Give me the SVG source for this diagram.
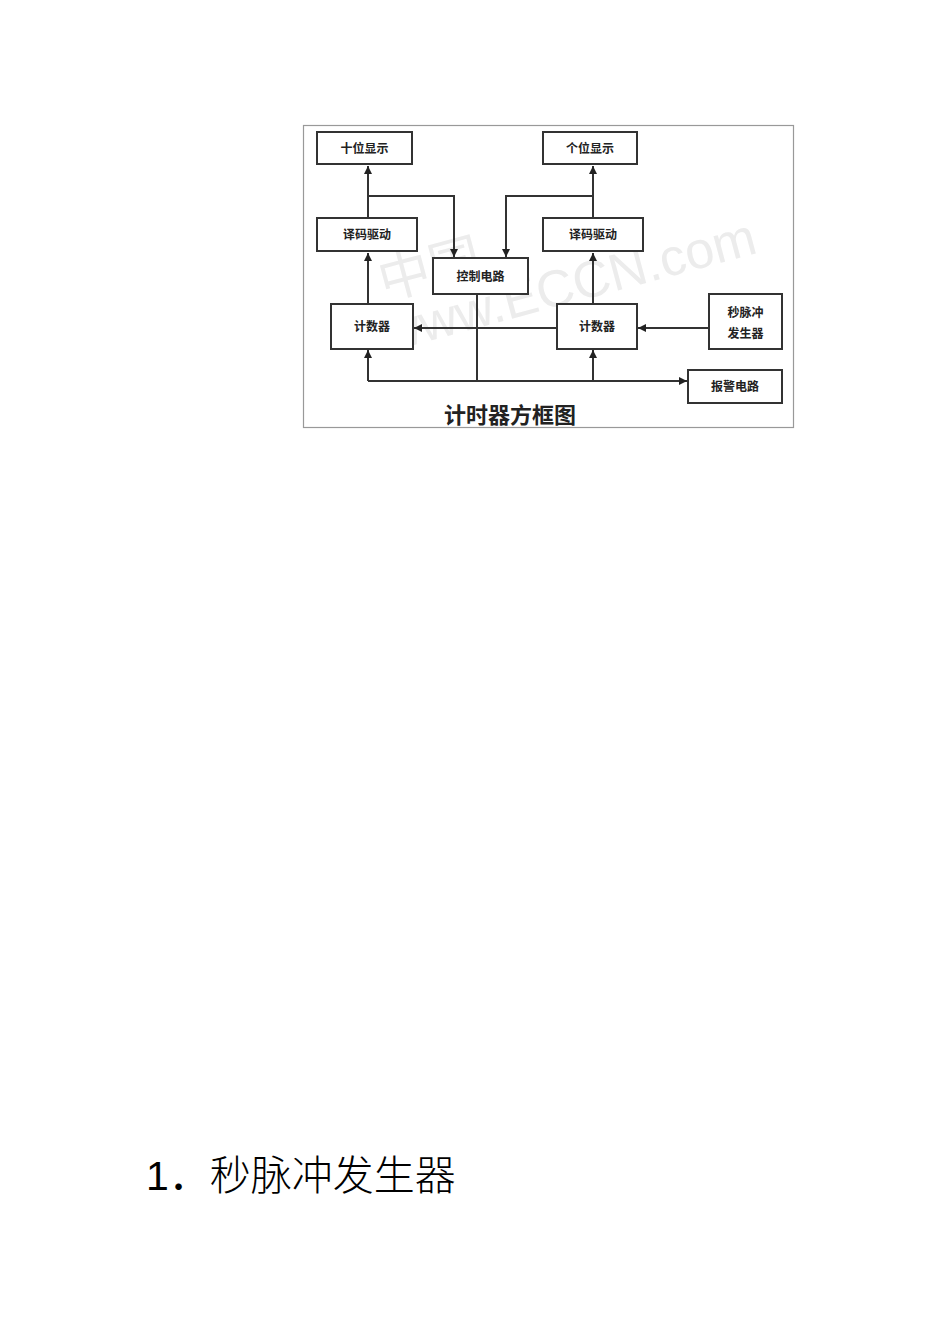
<svg xmlns="http://www.w3.org/2000/svg" width="950" height="1344" viewBox="0 0 950 1344">
<style>
.frame{fill:#fff;stroke:#999;stroke-width:1.2}
.box{fill:#fff;stroke:#333;stroke-width:2}
.lbl{font-family:"Noto Sans CJK SC",sans-serif;font-size:12px;font-weight:bold;fill:#222;text-anchor:middle}
.wire{fill:none;stroke:#333;stroke-width:2}
.wm{font-family:"Liberation Sans","Noto Sans CJK SC",sans-serif;font-size:52px;fill:#ececec}
</style>
<defs>
<marker id="arr" viewBox="0 0 8 8" refX="8" refY="4" markerWidth="4" markerHeight="4" orient="auto" markerUnits="strokeWidth">
<path d="M0,0 L8,4 L0,8 z" fill="#222"/>
</marker>
</defs>
<rect width="950" height="1344" fill="#fff"/>
<rect class="frame" x="303.5" y="125.5" width="490" height="302"/>
<g id="watermark">
<text class="wm" x="384" y="300" transform="rotate(-15 384 300)" font-size="32">中国</text>
<text class="wm" x="388" y="352" transform="rotate(-15 388 352)">www.ECCN.com</text>
</g>
<g id="connectors">
<path class="wire" d="M368,218 V166" marker-end="url(#arr)"/>
<path class="wire" d="M368,304 V253" marker-end="url(#arr)"/>
<path class="wire" d="M368,381 V350" marker-end="url(#arr)"/>
<path class="wire" d="M368,196 H454 V257" marker-end="url(#arr)"/>
<path class="wire" d="M593,196 H506 V257" marker-end="url(#arr)"/>
<path class="wire" d="M593,218 V166" marker-end="url(#arr)"/>
<path class="wire" d="M593,304 V253" marker-end="url(#arr)"/>
<path class="wire" d="M593,381 V350" marker-end="url(#arr)"/>
<path class="wire" d="M557,328 H414" marker-end="url(#arr)"/>
<path class="wire" d="M709,328 H638" marker-end="url(#arr)"/>
<path class="wire" d="M477,294 V381"/>
<path class="wire" d="M368,381 H687" marker-end="url(#arr)"/>
</g>
<g id="n-shiwei"><rect class="box" x="317" y="132" width="95" height="32"/><text class="lbl" x="364.5" y="152.5">十位显示</text></g>
<g id="n-gewei"><rect class="box" x="543" y="132" width="94" height="32"/><text class="lbl" x="590" y="152.5">个位显示</text></g>
<g id="n-yima1"><rect class="box" x="317" y="218" width="100" height="33"/><text class="lbl" x="367" y="239">译码驱动</text></g>
<g id="n-yima2"><rect class="box" x="543" y="218" width="100" height="33"/><text class="lbl" x="593" y="239">译码驱动</text></g>
<g id="n-kongzhi"><rect class="box" x="433" y="258" width="95" height="36"/><text class="lbl" x="480.5" y="281">控制电路</text></g>
<g id="n-jishu1"><rect class="box" x="331" y="304" width="82" height="45"/><text class="lbl" x="372" y="331">计数器</text></g>
<g id="n-jishu2"><rect class="box" x="557" y="304" width="80" height="45"/><text class="lbl" x="597" y="331">计数器</text></g>
<g id="n-miao"><rect class="box" x="709" y="294" width="73" height="55"/><text class="lbl" x="745.5" y="317">秒脉冲</text><text class="lbl" x="745.5" y="338">发生器</text></g>
<g id="n-baojing"><rect class="box" x="688" y="370" width="94" height="33"/><text class="lbl" x="735" y="391">报警电路</text></g>
<text x="510" y="423" font-family="'Noto Sans CJK SC',sans-serif" font-size="22" font-weight="bold" fill="#222" text-anchor="middle">计时器方框图</text>
<text x="146" y="1190" font-family="'Liberation Sans','Noto Sans CJK SC',sans-serif" font-size="41" fill="#000">1．<tspan font-family="'Noto Sans CJK SC',sans-serif" font-weight="300">秒脉冲发生器</tspan></text>
</svg>
